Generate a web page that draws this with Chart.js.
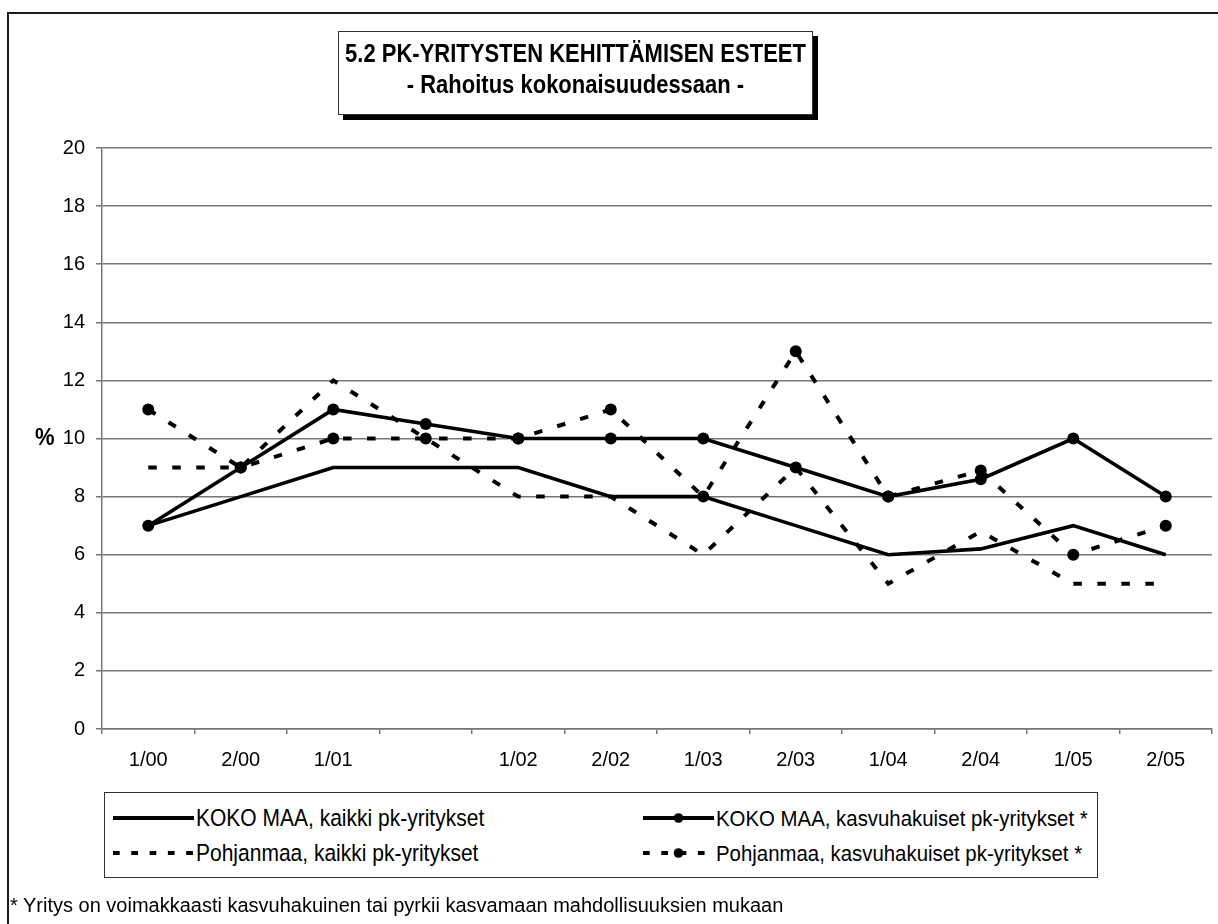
<!DOCTYPE html>
<html>
<head>
<meta charset="utf-8">
<script src="https://cdn.jsdelivr.net/npm/chart.js@4.4.1/dist/chart.umd.min.js"></script>
<style>
  html, body { margin: 0; padding: 0; background: #fff; }
  body { width: 1218px; height: 924px; position: relative; overflow: hidden; font-family: "Liberation Sans", Arial, sans-serif; color: #000; }
  #frame { position: absolute; left: 7px; top: 12px; width: 1230px; height: 940px; border-left: 2px solid #1a1a1a; border-top: 2px solid #1a1a1a; }
  #c { position: absolute; left: 0; top: 0; }
  #titlebox { position: absolute; left: 338px; top: 31px; width: 473px; height: 82px; border: 1px solid #333; background: #fff; box-shadow: 5px 5px 0 #000; text-align: center; font-weight: bold; font-size: 22px; }
  #titlebox .l1 { position: absolute; left: 0; right: 0; top: 9px; line-height: 26px; white-space: nowrap; transform: scaleY(1.2); }
  #titlebox .l2 { position: absolute; left: 0; right: 0; top: 40px; line-height: 26px; white-space: nowrap; transform: scaleY(1.2); }
  #pct { position: absolute; left: 35px; top: 424px; font-weight: bold; font-size: 22px; line-height: 26px; transform: scaleY(1.1); }
  #legend { position: absolute; left: 104px; top: 792px; width: 992px; height: 84px; border: 1px solid #333; background: #fff; }
  .item { position: absolute; height: 30px; font-size: 21px; line-height: 30px; white-space: nowrap; }
  .item.c2 { font-size: 20.4px; }
  .item svg { position: absolute; left: 0; top: 0; }
  .item span { position: absolute; top: 0; transform: scaleY(1.12); }
  #foot { position: absolute; left: 10px; top: 894px; font-size: 20px; line-height: 22px; white-space: nowrap; }
</style>
</head>
<body>
<div id="frame"></div>
<canvas id="c" width="1218" height="924"></canvas>
<div id="titlebox">
  <div class="l1">5.2 PK-YRITYSTEN KEHITTÄMISEN ESTEET</div>
  <div class="l2">- Rahoitus kokonaisuudessaan -</div>
</div>
<div id="pct">%</div>
<div id="legend"></div>
<div id="foot">* Yritys on voimakkaasti kasvuhakuinen tai pyrkii kasvamaan mahdollisuuksien mukaan</div>
<script>
// ---- data ----
const categories = ['1/00', '2/00', '1/01', '', '1/02', '2/02', '1/03', '2/03', '1/04', '2/04', '1/05', '2/05'];
const kokoMaaKaikki = [7, 8, 9, 9, 9, 8, 8, 7, 6, 6.2, 7, 6];
const kokoMaaKasvu = [7, 9, 11, 10.5, 10, 10, 10, 9, 8, 8.6, 10, 8];
const pohjanmaaKaikki = [9, 9, 12, 10, 8, 8, 6, 9, 5, 6.8, 5, 5];
const pohjanmaaKasvu = [11, 9, 10, 10, 10, 11, 8, 13, 8, 8.9, 6, 7];
const seriesNames = [
  'KOKO MAA, kaikki pk-yritykset',
  'KOKO MAA, kasvuhakuiset pk-yritykset *',
  'Pohjanmaa, kaikki pk-yritykset',
  'Pohjanmaa, kasvuhakuiset pk-yritykset *'
];
const yMin = 0, yMax = 20, yStep = 2;

const FONT = '"Liberation Sans", Arial, sans-serif';
const GRID = '#767676';
const DASH = [8.5, 15.5];

function ds(label, data, dashed, markers) {
  return {
    label, data,
    borderColor: '#000', backgroundColor: '#000',
    borderWidth: dashed ? 4 : 3.6,
    borderDash: dashed ? DASH : [],
    borderCapStyle: 'butt', borderJoinStyle: 'miter',
    tension: 0,
    pointRadius: markers ? 6 : 0,
    pointHoverRadius: markers ? 6 : 0,
    pointBorderWidth: 0,
    pointBackgroundColor: '#000',
    pointStyle: 'circle',
    fill: false
  };
}

new Chart(document.getElementById('c'), {
  type: 'line',
  data: {
    labels: categories,
    datasets: [
      ds(seriesNames[0], kokoMaaKaikki, false, false),
      ds(seriesNames[1], kokoMaaKasvu, false, true),
      ds(seriesNames[2], pohjanmaaKaikki, true, false),
      ds(seriesNames[3], pohjanmaaKasvu, true, true)
    ]
  },
  options: {
    responsive: false,
    animation: false,
    devicePixelRatio: 1,
    layout: { padding: { left: 0, top: 148, right: 4, bottom: 135 } },
    plugins: { legend: { display: false }, title: { display: false }, tooltip: { enabled: false } },
    scales: {
      x: {
        offset: true,
        grid: { display: true, drawOnChartArea: false, drawTicks: true, tickLength: 5, offset: true, color: GRID, lineWidth: 1.5 },
        border: { display: true, color: GRID, width: 1.5 },
        ticks: { color: '#000', font: { family: FONT, size: 20 }, padding: 14, maxRotation: 0, autoSkip: false },
        afterFit: s => { s.height = 60; }
      },
      y: {
        min: yMin, max: yMax,
        grid: { color: GRID, lineWidth: 1.5, tickLength: 6, drawTicks: true },
        border: { display: true, color: GRID, width: 1.5 },
        ticks: { stepSize: yStep, color: '#000', font: { family: FONT, size: 20 }, padding: 11 },
        afterFit: s => { s.width = 102; }
      }
    }
  }
});

// ---- HTML legend (styles mirror the datasets) ----
const legendItems = [
  { name: seriesNames[0], dashed: false, marker: false, x: 8, y: 10, lineW: 81, col: 1 },
  { name: seriesNames[1], dashed: false, marker: true, x: 538, y: 10, lineW: 71, col: 2 },
  { name: seriesNames[2], dashed: true, marker: false, x: 8, y: 45, lineW: 81, col: 1 },
  { name: seriesNames[3], dashed: true, marker: true, x: 538, y: 45, lineW: 71, col: 2 }
];
const leg = document.getElementById('legend');
legendItems.forEach(it => {
  const d = document.createElement('div');
  d.className = 'item' + (it.col === 2 ? ' c2' : '');
  d.style.left = it.x + 'px';
  d.style.top = it.y + 'px';
  d.style.width = '450px';
  const w = it.lineW;
  let svg = '<svg width="' + (w + 2) + '" height="30" xmlns="http://www.w3.org/2000/svg">';
  svg += '<line x1="0" y1="15" x2="' + w + '" y2="15" stroke="#000" stroke-width="3.8"' +
    (it.dashed ? ' stroke-dasharray="6.7 11.6"' : '') + '/>';
  if (it.marker) svg += '<circle cx="' + (w / 2) + '" cy="15" r="4.8" fill="#000"/>';
  svg += '</svg>';
  d.innerHTML = svg + '<span style="left:' + (w + 2) + 'px">' + it.name + '</span>';
  leg.appendChild(d);
});
</script>
</body>
</html>
